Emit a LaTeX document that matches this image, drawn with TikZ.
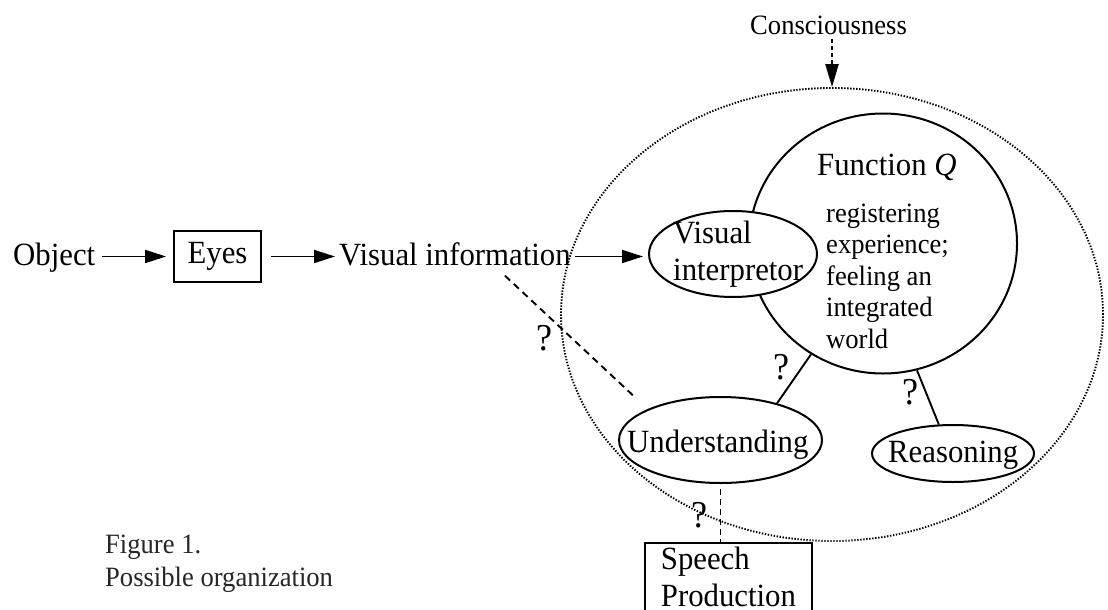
\documentclass[tikz,border=0pt]{standalone}
\usepackage{fontspec}
\setmainfont{Liberation Serif}[FakeStretch=0.95]
\usetikzlibrary{arrows.meta,shapes.geometric}
\newcommand{\mlines}[1]{\begin{tabular}[t]{@{}l@{}}#1\end{tabular}}
\begin{document}
\begin{tikzpicture}[x=1pt,y=-1pt,
  big/.style={font=\fontsize{32.4}{37}\selectfont, inner sep=0pt},
  small/.style={font=\fontsize{28}{31.5}\selectfont, inner sep=0pt},
  capt/.style={font=\fontsize{28}{33}\selectfont, inner sep=0pt, text=black!85},
  qmark/.style={font=\fontsize{38}{40}\selectfont, inner sep=0pt},
  oval/.style={ellipse, draw, line width=2pt, inner sep=0pt},
  boxed/.style={rectangle, draw, line width=1.8pt},
  arr/.style={line width=1.8pt, -{Triangle[length=21pt,width=13pt]}},
  dotarr/.style={line width=2.2pt, dash pattern=on 4pt off 3pt, -{Triangle[length=23pt,width=13pt]}},
  link/.style={line width=1.9pt},
  dlink/.style={line width=1.9pt, dash pattern=on 7pt off 5pt},
  dotline/.style={line width=1.9pt, dash pattern=on 1.4pt off 1.6pt},
]
\useasboundingbox (0,0) rectangle (1108,610);

% nodes
\node[big, anchor=base west] (obj) at (13,265) {Object};
\node[boxed, big, minimum width=87pt, minimum height=51pt] (eyes) at (217.5,256.5) {Eyes};
\node[big, anchor=base west] (vinfo) at (339,265) {Visual information};

\node[ellipse, draw, dotline, minimum width=542pt, minimum height=453pt, inner sep=0pt] (cons) at (832,314.5) {};
\node[small, anchor=base west] (constext) at (750,35) {Consciousness};

\node[oval, minimum width=268pt, minimum height=260pt] (fq) at (883,243.5) {};
\node[big, anchor=base west] (fqtitle) at (817,175) {Function \textit{Q}};
\node[small, anchor=base west] (fqtext) at (826,222) {\mlines{registering\\experience;\\feeling an\\integrated\\world}};

\node[oval, fill=white, minimum width=168pt, minimum height=86pt] (vi) at (733,254) {};
\node[big, anchor=base west] (vitext) at (673,243) {\mlines{Visual\\interpretor}};

\node[oval, minimum width=203pt, minimum height=86pt] (und) at (720.5,440) {};
\node[big, anchor=base west] (undtext) at (627,452) {Understanding};

\node[oval, minimum width=162pt, minimum height=57pt] (reas) at (953,453.5) {};
\node[big, anchor=base west] (reastext) at (888,462) {Reasoning};

\node[boxed, big, anchor=base west, inner xsep=16pt, inner ysep=0pt] (speech) at (644,569) {\mlines{Speech\\Production}};

\node[capt, anchor=base west] (cap) at (105,553) {\mlines{Figure 1.\\Possible organization}};

\node[qmark] (q1) at (545,338) {?};
\node[qmark] (q2) at (782,367) {?};
\node[qmark] (q3) at (700,515) {?};
\node[qmark] (q4) at (910,392) {?};

% connectors
\draw[arr, shorten <=7pt, shorten >=7pt] (obj.east |- eyes.west) -- (eyes.west);
\draw[arr, shorten <=9pt, shorten >=4pt] (eyes.east) -- (eyes.east -| vinfo.west);
\draw[arr, shorten <=4pt, shorten >=5pt] (vinfo.east |- eyes.east) -- (vi.west |- eyes.east);
\draw[dotarr, shorten <=4pt] (constext.south -| cons.north) -- (cons.north);
\draw[dlink, shorten >=16pt] ([shift={(50,10)}]vinfo.south) -- (und.157.6);
\draw[link] (und.33.5) -- (fq.237.5);
\draw[link] (fq.285.2) -- (reas.116);
\draw[dlink, dash pattern=on 6pt off 4pt, shorten <=5pt] (und.south) -- (und.south |- speech.north);
\end{tikzpicture}
\end{document}
